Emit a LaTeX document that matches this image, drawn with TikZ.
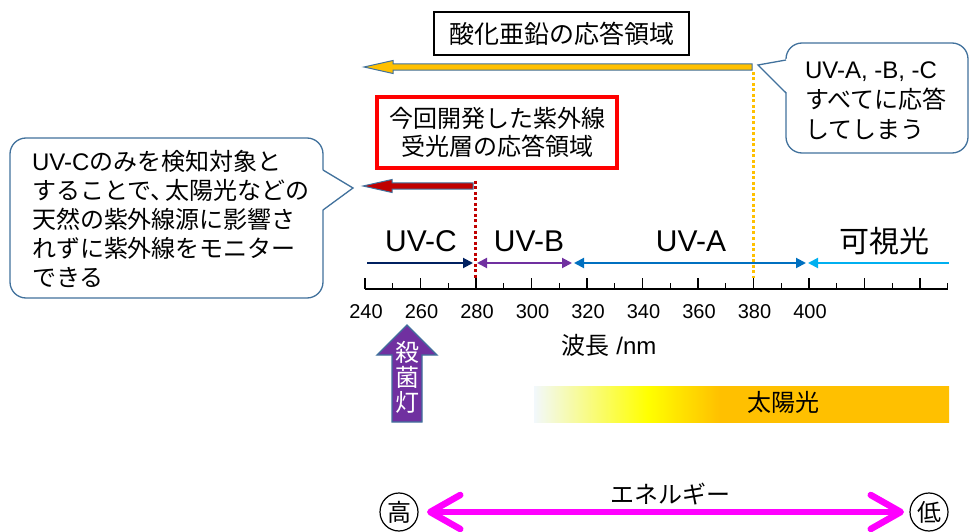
\documentclass[tikz,border=0pt]{standalone}
\usepackage{fontspec}
\setmainfont{Liberation Sans}
\newfontfamily\jp{Noto Sans CJK JP}
\newfontfamily\lat{Liberation Sans}
\usetikzlibrary{arrows.meta}
\definecolor{zinc}{HTML}{FFC000}
\definecolor{shapeline}{HTML}{41719C}
\definecolor{dred}{HTML}{C00000}
\definecolor{uvc}{HTML}{002060}
\definecolor{uvb}{HTML}{7030A0}
\definecolor{uva}{HTML}{0070C0}
\definecolor{vis}{HTML}{00B0F0}
\definecolor{mag}{HTML}{FF00FF}
\definecolor{sunw}{HTML}{F2F8FC}
\definecolor{sunyel}{HTML}{FFFF00}
\definecolor{sunor}{HTML}{FFC000}
\definecolor{lampc}{HTML}{7030A0}
\pgfdeclarehorizontalshading{sunshade}{100bp}{color(0bp)=(sunw); color(25bp)=(sunw);
  color(38.7bp)=(sunyel); color(47.4bp)=(sunor); color(100bp)=(sunor)}
\tikzset{
  tri/.tip={Triangle[length=10pt,width=10pt]},
  barb/.tip={Straight Barb[length=30pt,width=34pt,round]},
}
\begin{document}
\begin{tikzpicture}[x=1pt,y=-1pt,
  every node/.style={inner sep=0pt,outer sep=0pt},
  blockarrow/.style={fill=#1,draw=shapeline,line width=1pt,line join=miter},
  callbox/.style={draw=shapeline,line width=1.3pt,fill=white,rounded corners=16pt},
  callline/.style={draw=shapeline,line width=1.3pt,line join=miter},
  uvline/.style={draw=#1,line width=2pt},
  tickline/.style={draw=black,line width=1.3pt},
  ticklab/.style={font=\lat\fontsize{20}{24}\selectfont},
  jp24/.style={font=\jp\fontsize{24}{30}\selectfont},
  bandlab/.style={font=\lat\fontsize{30}{36}\selectfont},
  dotline/.style={draw=#1,line width=3pt,dash pattern=on 3pt off 2.5pt},
  energy/.style={draw=mag,line width=6.5pt,line cap=round,{barb}-{barb}},
]
\useasboundingbox (0,0) rectangle (970,532);

% ---- top box: zinc oxide response range
\node[draw=black,line width=1.2pt,minimum width=255pt,minimum height=43pt,
      font=\jp\fontsize{25}{30}\selectfont] (zno) at (561.5,33.5) {酸化亜鉛の応答領域};

% orange block arrow
\draw[blockarrow=zinc] (364,67) -- (393,60.5) -- (393,63.8) -- (752,63.8) -- (752,70.2)
   -- (393,70.2) -- (393,73.5) -- cycle;
% orange dotted line at 380 nm
\coordinate (o1) at (753,72);
\coordinate (o2) at (753,278);
\draw[dotline=zinc] (o1) -- (o2);

% ---- right callout
\node[callbox,minimum width=182pt,minimum height=110pt] (rcb) at (877,98) {};
\fill[white] (789,58.5) -- (758,65) -- (789,94.5) -- cycle;
\draw[callline] (786,60) -- (758,65) -- (786,93);
\node[jp24,anchor=west,align=left] (rct) at (805,101)
  {{\lat UV-A, -B, -C}\\すべてに応答\\してしまう};

% ---- red box: new sensor
\node[draw=red,line width=4pt,minimum width=240pt,minimum height=71pt,
      align=center,font=\jp\fontsize{24}{28}\selectfont] (newbox) at (497,132.5)
  {今回開発した紫外線\\受光層の応答領域};

% dark red block arrow
\draw[blockarrow=dred] (363,186) -- (392,179.5) -- (392,182.8) -- (473,182.8) -- (473,189.2)
   -- (392,189.2) -- (392,192.5) -- cycle;
% red dotted line at 280 nm
\coordinate (r1) at (475,181);
\coordinate (r2) at (475,278);
\draw[dotline=dred] (r1) -- (r2);

% ---- left callout
\node[callbox,minimum width=313pt,minimum height=160pt] (lcb) at (166.5,218) {};
\fill[white] (320,168.5) -- (353,188) -- (320,211.5) -- cycle;
\draw[callline] (323,170) -- (353,188) -- (323,210);
\node[anchor=west,align=left,font=\jp\fontsize{24}{29}\selectfont] (lct) at (32,219)
  {{\lat UV-C}のみを検知対象と\\することで、\kern-9pt 太陽光などの\\天然の紫外線源に影響さ\\れずに紫外線をモニター\\できる};

% ---- band labels
\node[bandlab] (lc) at (421,241) {UV-C};
\node[bandlab] (lb) at (529,241) {UV-B};
\node[bandlab] (la) at (691,241) {UV-A};
\node[font=\jp\fontsize{30}{36}\selectfont] (lv) at (884,241) {可視光};

% band arrows
\coordinate (c0) at (367,263);
\coordinate (c1) at (473,263);
\coordinate (b0) at (477,263);
\coordinate (b1) at (572,263);
\coordinate (a0) at (574,263);
\coordinate (a1) at (806,263);
\coordinate (v0) at (808,263);
\coordinate (v1) at (949,263);
\draw[uvline=uvc,-{tri}] (c0) -- (c1);
\draw[uvline=uvb,{tri}-{tri}] (b0) -- (b1);
\draw[uvline=uva,{tri}-{tri}] (a0) -- (a1);
\draw[uvline=vis,{tri}-] (v0) -- (v1);

% ---- axis
\coordinate (ax0) at (365,289);
\coordinate (ax1) at (948,289);
\draw[tickline] (ax0) -- (ax1);
\foreach \l in {240,260,...,440}{
  \draw[tickline] ({365+(\l-240)*2.775},289) -- ++(0,-11);
}
\foreach \l in {250,270,...,450}{
  \draw[tickline] ({365+(\l-240)*2.775},289) -- ++(0,-6);
}
\foreach \l in {240,260,...,400}{
  \node[ticklab] (t\l) at ({366+(\l-240)*2.775},312) {\l};
}
\node[jp24] (wl) at (609,345) {波長{\lat\ /nm}};

% ---- germicidal lamp arrow
\draw[blockarrow=lampc,line width=1.3pt] (407,325) -- (437,355) -- (422,355) -- (422,422)
   -- (392,422) -- (392,355) -- (377,355) -- cycle;
\node[text=white,align=center,font=\jp\fontsize{24}{25}\selectfont] (lamp) at (407,377)
  {殺\\菌\\灯};

% ---- sunlight bar
\shade[shading=sunshade] (534,386) rectangle (949,422);
\node[jp24] (sun) at (783,402) {太陽光};

% ---- energy arrow
\node[draw=black,line width=1.2pt,circle,minimum size=38pt,jp24] (hi) at (399,512) {高};
\node[draw=black,line width=1.2pt,circle,minimum size=38pt,jp24] (lo) at (929,512) {低};
\draw[energy,shorten <=9pt,shorten >=6pt] (hi) -- (lo);
\node[jp24] (en) at (670,494) {エネルギー};

\end{tikzpicture}
\end{document}
